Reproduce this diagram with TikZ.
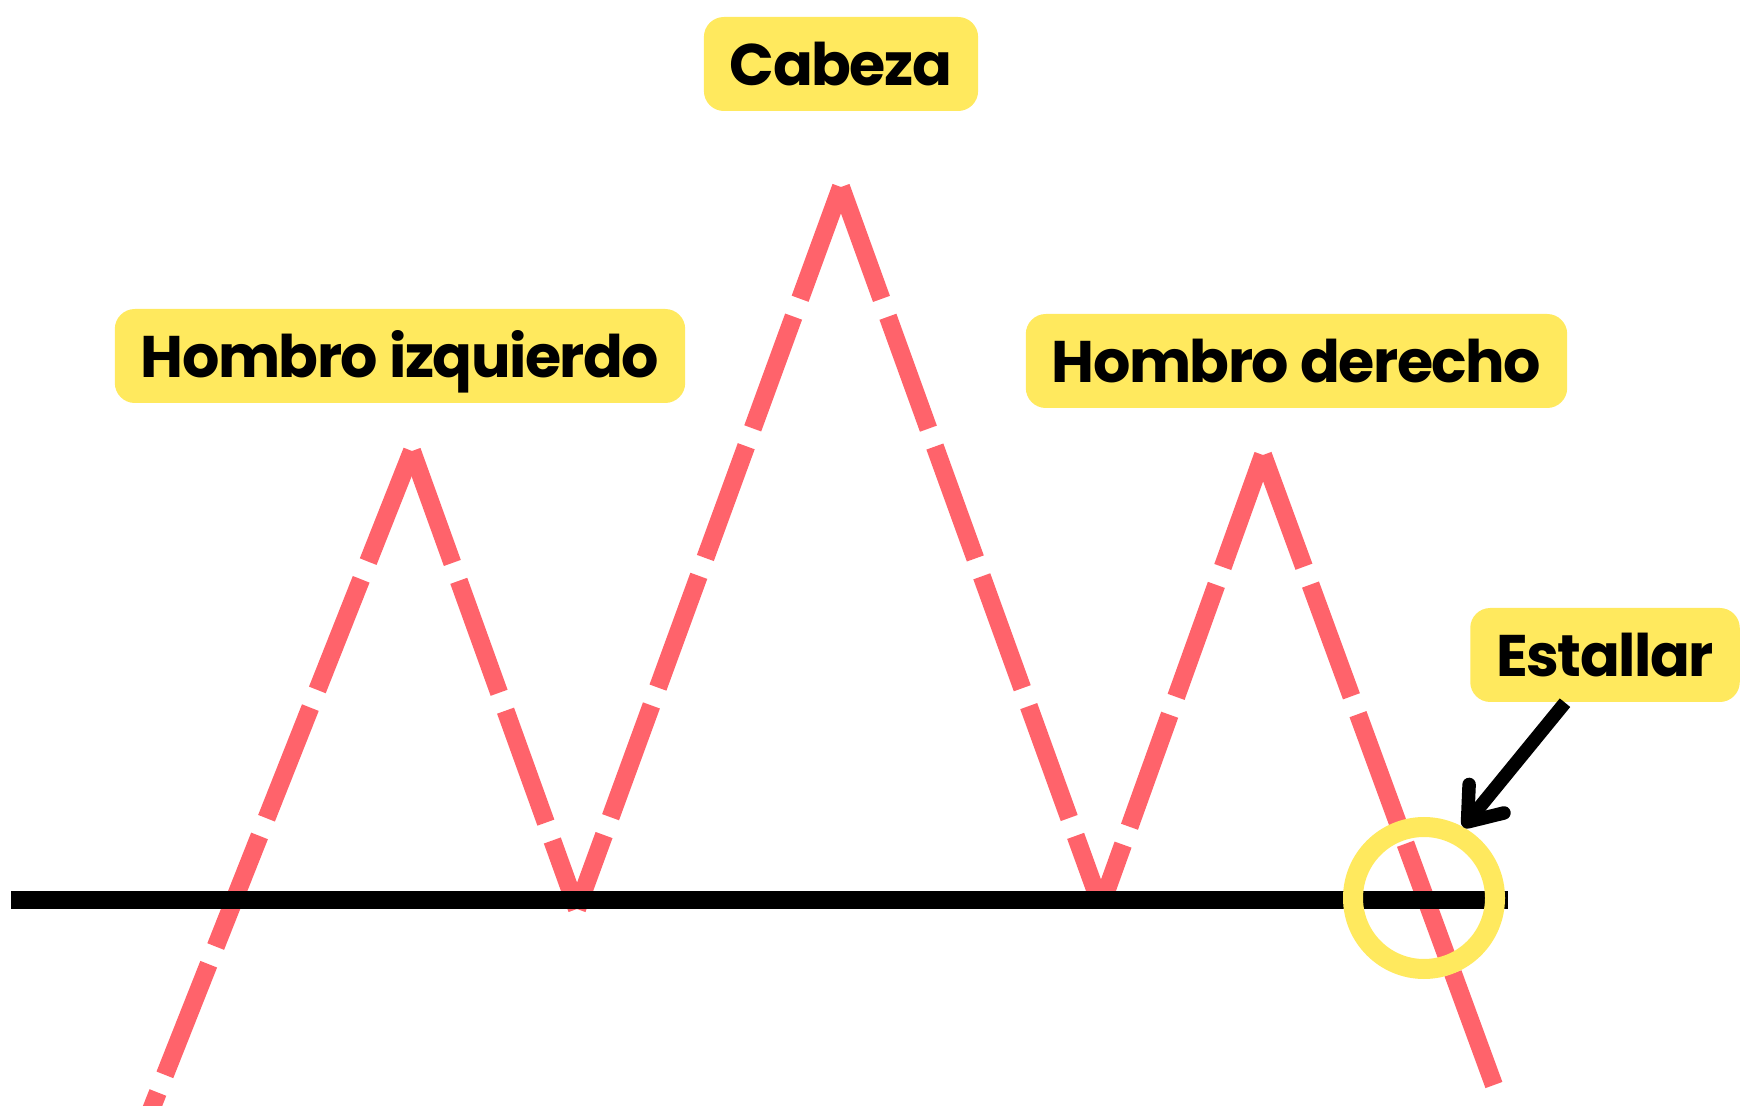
\documentclass[tikz,border=0pt]{standalone}
\usepackage{fontspec}
\setmainfont{Poppins}[LetterSpace=-2.5]
\usetikzlibrary{arrows.meta, positioning}
\definecolor{chartred}{HTML}{FF636B}
\definecolor{tagyellow}{HTML}{FFE95E}
\tikzset{
    tag/.style={rectangle, rounded corners=0.2cm, fill=tagyellow, minimum height=0.94cm, inner xsep=0.26cm, text height=0.43cm, text depth=0cm, font=\bfseries\fontsize{16.7}{20}\selectfont},
    leg/.style={line width=0.18cm, draw=chartred, dash pattern=on 1.19cm off 0.19cm},
    neck/.style={line width=0.18cm, draw=black},
    ring/.style={circle, draw=tagyellow, line width=0.2cm, minimum size=1.42cm, inner sep=0pt},
    arrow/.style={line width=0.135cm, -{Straight Barb[length=0.3cm, width=0.45cm, round]}}
}

\begin{document}
\begin{tikzpicture}
    \useasboundingbox (0,0) rectangle (17.46,11.05);

    % turning points of the price line
    \coordinate (start) at (1.47,-0.15);
    \coordinate (lshoulder) at (4.12,6.54);
    \coordinate (ltrough) at (5.77,1.96);
    \coordinate (head) at (8.41,9.18);
    \coordinate (rtrough) at (11.01,1.99);
    \coordinate (rshoulder) at (12.63,6.50);
    \coordinate (finish) at (14.95,0.17);
    \coordinate (neckL) at (0.11,2.05);
    \coordinate (neckR) at (15.08,2.05);

    \draw [leg] (lshoulder) -- (start);
    \draw [leg] (lshoulder) -- (ltrough);
    \draw [leg] (head) -- (ltrough);
    \draw [leg] (head) -- (rtrough);
    \draw [leg] (rshoulder) -- (rtrough);
    \draw [leg] (rshoulder) -- (finish);

    \draw [neck] (neckL) -- (neckR);

    \node (breakout) [ring] at (14.24,2.07) {};

    \node (cabeza) [tag] at (8.41,10.41) {Cabeza};
    \node (lefttag) [tag] at (4.00,7.49) {Hombro izquierdo};
    \node (righttag) [tag] at (12.965,7.44) {Hombro derecho};
    \node (estallar) [tag] at (16.05,4.50) {Estallar};

    \draw [arrow] ([xshift=-0.4cm]estallar.south) -- (breakout.61);
\end{tikzpicture}
\end{document}
